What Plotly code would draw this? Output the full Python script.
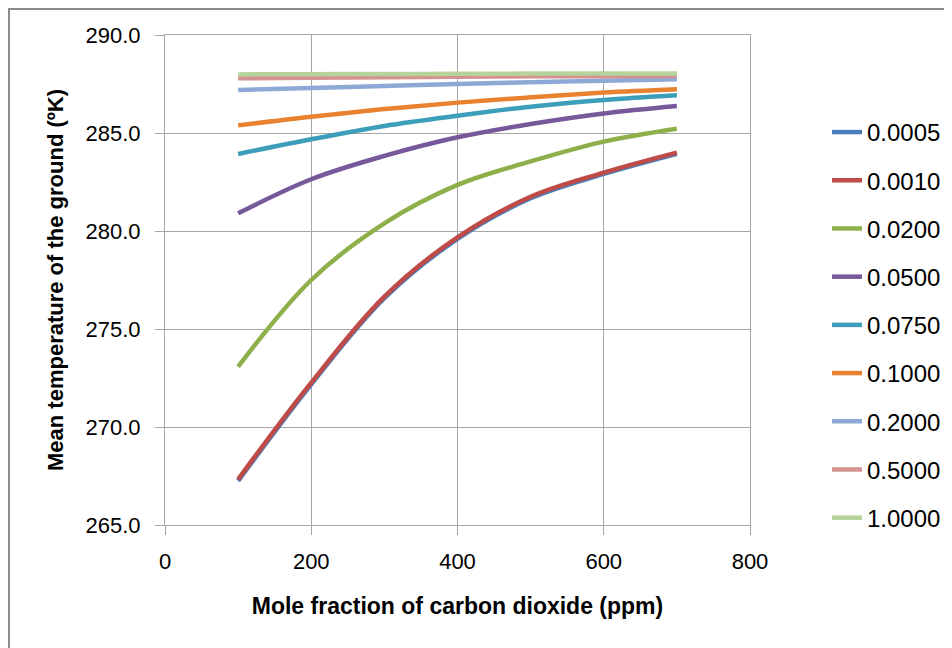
import plotly.graph_objects as go

# CO2 mole fraction (ppm)
co2_ppm = [100, 200, 300, 400, 500, 600, 700]

# mean ground temperature (K) for each water-vapour fraction
series_names = ["0.0005", "0.0010", "0.0200", "0.0500", "0.0750",
                "0.1000", "0.2000", "0.5000", "1.0000"]
t_0005 = [267.25, 272.18, 276.57, 279.60, 281.67, 282.91, 283.94]
t_0010 = [267.33, 272.26, 276.65, 279.68, 281.75, 282.98, 284.00]
t_0200 = [273.08, 277.50, 280.39, 282.35, 283.55, 284.56, 285.22]
t_0500 = [280.90, 282.64, 283.83, 284.78, 285.46, 286.00, 286.38]
t_0750 = [283.93, 284.68, 285.36, 285.88, 286.34, 286.68, 286.92]
t_1000 = [285.39, 285.83, 286.22, 286.55, 286.82, 287.06, 287.23]
t_2000 = [287.19, 287.30, 287.40, 287.50, 287.59, 287.67, 287.74]
t_5000 = [287.79, 287.82, 287.85, 287.87, 287.89, 287.90, 287.91]
t_10000 = [287.99, 288.00, 288.01, 288.02, 288.03, 288.03, 288.04]

all_series = [t_0005, t_0010, t_0200, t_0500, t_0750, t_1000, t_2000, t_5000, t_10000]
colors = ["#4A7EBB", "#BE4B48", "#8DB04A", "#76589B", "#3C9EB8",
          "#E8822E", "#8EA9D6", "#D49391", "#B5D39A"]

FONT = "Liberation Sans"

fig = go.Figure()
for name, vals, col in zip(series_names, all_series, colors):
    fig.add_trace(go.Scatter(
        x=co2_ppm, y=vals, name=name, mode="lines",
        line=dict(color=col, width=4.5, shape="spline", smoothing=1.0),
        legendgroup=name,
    ))

grid = "#A6A6A6"
fig.update_xaxes(
    range=[0, 800], dtick=200, tick0=0,
    showgrid=True, gridcolor=grid, gridwidth=1,
    showline=True, linecolor=grid, linewidth=1, mirror=True,
    ticks="outside", ticklen=9, tickcolor=grid,
    tickfont=dict(family=FONT, size=22, color="#000"),
    ticklabelstandoff=8,
    title=dict(text="<b>Mole fraction of carbon dioxide (ppm)</b>",
               font=dict(family=FONT, size=23, color="#000"), standoff=24),
    zeroline=False,
)
fig.update_yaxes(
    range=[265, 290], dtick=5, tickformat=".1f",
    showgrid=True, gridcolor=grid, gridwidth=1,
    showline=True, linecolor=grid, linewidth=1, mirror=True,
    ticks="outside", ticklen=9, tickcolor=grid,
    tickfont=dict(family=FONT, size=22, color="#000"),
    ticklabelstandoff=10,
    title=dict(text="<b>Mean temperature of the ground (ºK)</b>",
               font=dict(family=FONT, size=22, color="#000"), standoff=15),
    zeroline=False,
)

fig.update_layout(
    width=952, height=648,
    margin=dict(l=157, r=210, t=27, b=131),
    paper_bgcolor="white", plot_bgcolor="white",
    showlegend=True,
    legend=dict(
        x=1.1316, y=0.847, xanchor="left", yanchor="top",
        font=dict(family=FONT, size=24, color="#000"),
        tracegroupgap=14, itemwidth=30,
        bgcolor="rgba(0,0,0,0)",
    ),
    # outer chart-area frame (only left and top edges fall inside the window)
    shapes=[dict(type="rect", xref="paper", yref="paper",
                 x0=-0.2667, x1=1.36, y0=-0.29, y1=1.0531,
                 line=dict(color="#8C8C8C", width=2))],
)

fig.write_html("out.html")
